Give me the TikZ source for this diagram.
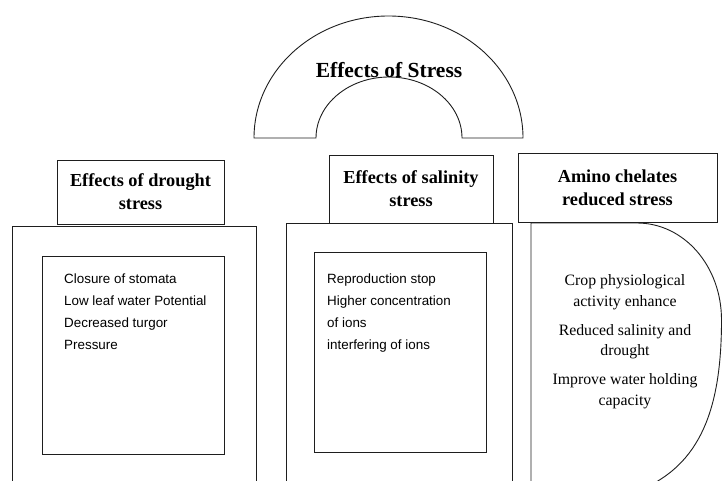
\documentclass[tikz,border=0pt]{standalone}
\usepackage{fontspec}
\setmainfont{Liberation Serif}
\newfontfamily\arialfont{Liberation Sans}
\usepackage{tikz}
\usetikzlibrary{positioning}
\definecolor{stline}{RGB}{30,30,30}
\tikzstyle{headbox} = [rectangle, draw=stline, line width=0.9pt, align=center, inner sep=0pt, font=\fontsize{18.3}{23}\selectfont\bfseries]
\tikzstyle{panel} = [rectangle, draw=stline, line width=0.9pt, anchor=north west, inner sep=0pt]
\tikzstyle{listtext} = [align=left, inner sep=0pt, font=\arialfont\fontsize{13.4}{22}\selectfont]
\tikzstyle{chelatetext} = [align=center, inner sep=0pt, font=\fontsize{15.8}{20.5}\selectfont]

\begin{document}
\begin{tikzpicture}[x=1pt, y=1pt]
\useasboundingbox (0,0) rectangle (722,480);
\clip (0,0) rectangle (722,480);

% Arch at the top
\draw[stline, line width=0.9pt] (254,342) arc[start angle=180, end angle=0, x radius=134.5pt, y radius=122pt]
  -- (462,342) arc[start angle=0, end angle=180, x radius=73pt, y radius=61pt] -- cycle;
\node[anchor=base, inner sep=0pt, font=\fontsize{21.5}{26}\selectfont\bfseries] (stress) at (389,402) {Effects of Stress};

% Three header boxes
\node[headbox, minimum width=167pt, minimum height=64pt] (drought) at (140.5,288) {Effects of drought\\stress};
\node[headbox, minimum width=164pt, minimum height=68pt] (salinity) at (411,291) {Effects of salinity\\stress};
\node[headbox, minimum width=199pt, minimum height=69pt] (amino) at (617.5,292.5) {Amino chelates\\reduced stress};

% Outer panels
\node[panel, minimum width=244pt, minimum height=280pt] (droughtpanel) at (12,254) {};
\node[panel, minimum width=226pt, minimum height=280pt] (salinitypanel) at (286,257) {};

% Inner boxes with lists
\node[panel, minimum width=182pt, minimum height=198pt] (droughtlist) at (42,224) {};
\node[panel, minimum width=172pt, minimum height=200pt] (salinitylist) at (314,228) {};
\node[listtext, below right=17.2pt and 22pt of droughtlist.north west] (droughtitems) {Closure of stomata\\Low leaf water Potential\\Decreased turgor\\Pressure};
\node[listtext, below right=21.2pt and 13pt of salinitylist.north west] (salinityitems) {Reproduction stop\\Higher concentration\\of ions\\interfering of ions};

% D-shaped panel
\draw[stline, line width=0.9pt] (531,-10) -- (531,257) -- (637,257)
  .. controls (684,257) and (721.5,214) .. (721.5,160)
  .. controls (721.5,70) and (700,15) .. (640,-10);
\node[chelatetext, anchor=north] (chelateitems) at (625,205.3) {Crop physiological\\activity enhance\\[8.5pt]Reduced salinity and\\drought\\[8.5pt]Improve water holding\\capacity};
\end{tikzpicture}
\end{document}
